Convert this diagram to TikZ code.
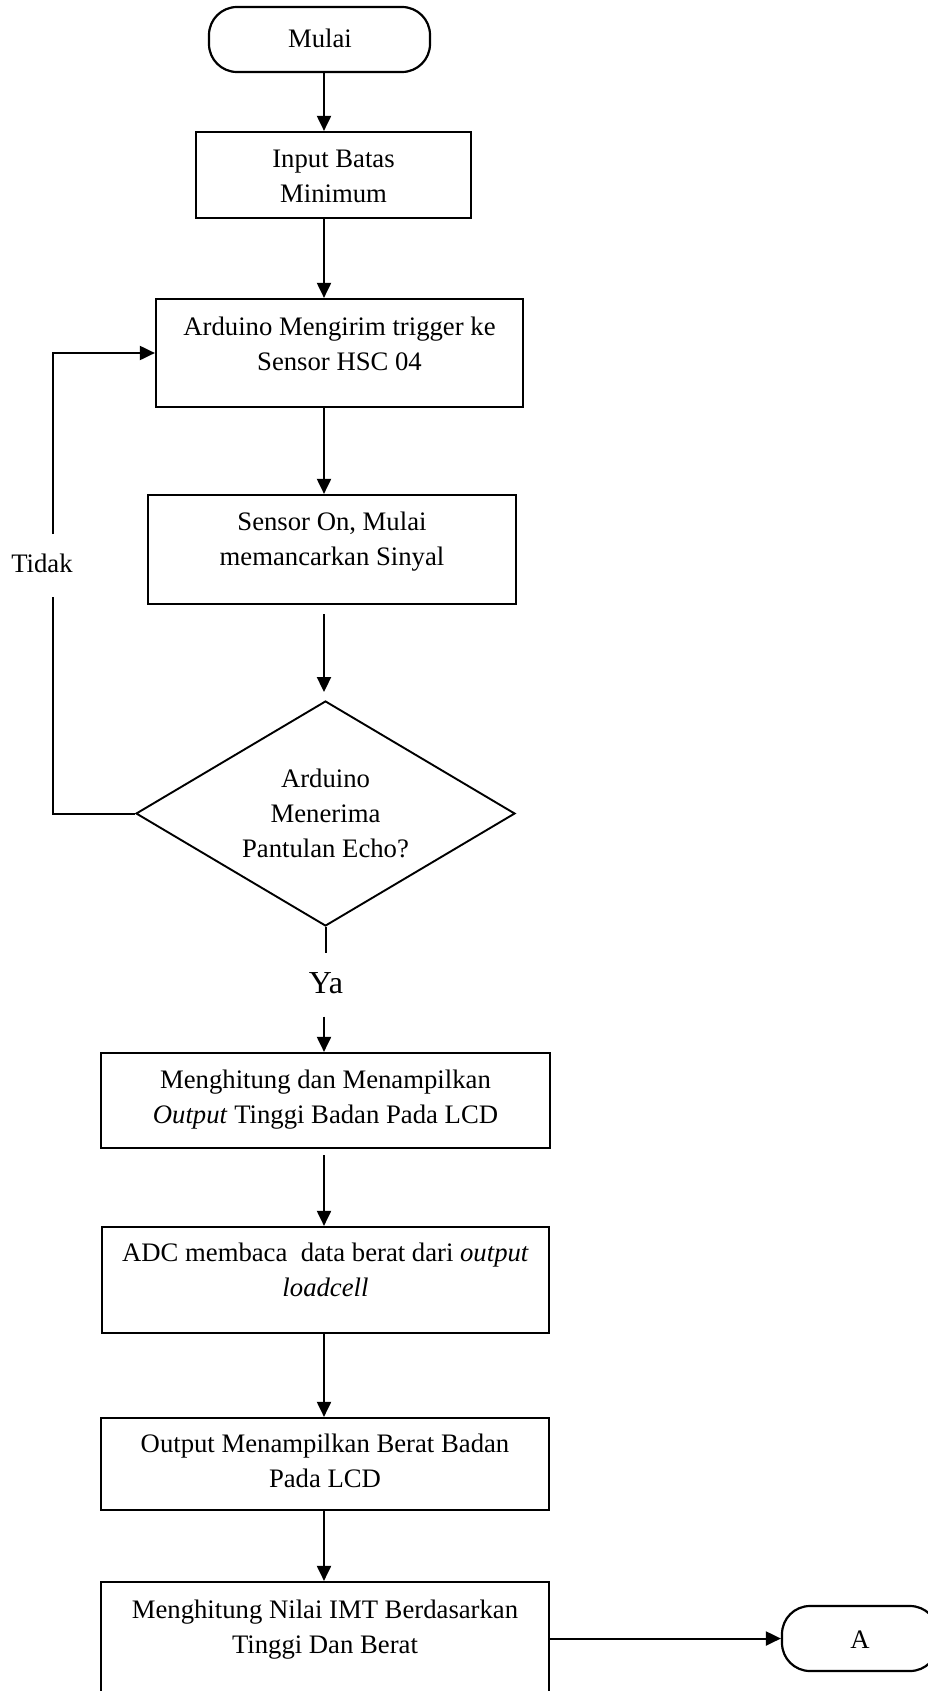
\documentclass[tikz,border=0pt]{standalone}
\usepackage{fontspec}
\setmainfont{Liberation Serif}
\usetikzlibrary{arrows.meta,shapes.geometric}

\begin{document}
\begin{tikzpicture}[x=1pt,y=-1pt,
  box/.style={draw, line width=2.2pt, rectangle, inner sep=0pt},
  term/.style={draw, line width=2.2pt, rectangle, rounded corners=28pt, inner sep=0pt},
  decision/.style={draw, line width=1.9pt, diamond, inner sep=0pt},
  txt/.style={anchor=base, align=center, inner sep=0pt, font=\fontsize{26.7}{35}\selectfont},
  flow/.style={line width=2pt, -{Triangle[length=15pt,width=14pt]}},
  plain/.style={line width=2pt},
]
\useasboundingbox (0,0) rectangle (928,1691);
\clip (0,0) rectangle (928,1691);

% main column for the vertical connectors
\coordinate (spine) at (324,0);

% shapes
\node[term, minimum width=221pt, minimum height=65pt] (start) at (319.5,39.5) {};
\node[box, minimum width=275pt, minimum height=86pt] (inp) at (333.5,175) {};
\node[box, minimum width=367pt, minimum height=108pt] (ard) at (339.5,353) {};
\node[box, minimum width=368pt, minimum height=109pt] (sen) at (332,549.5) {};
\node[decision, minimum width=379pt, minimum height=225pt] (dia) at (325.5,813.5) {};
\node[box, minimum width=449pt, minimum height=95pt] (hit) at (325.5,1100.5) {};
\node[box, minimum width=447pt, minimum height=106pt] (adc) at (325.5,1280) {};
\node[box, minimum width=448pt, minimum height=92pt] (out) at (325,1464) {};
\node[box, minimum width=448pt, minimum height=138pt] (imt) at (325,1651) {};
\node[term, minimum width=156pt, minimum height=65pt] (aend) at (860,1638.5) {};

% texts (anchored at the baseline of their last line)
\node[txt] (tstart) at (320,48) {Mulai};
\node[txt] (tinp) at (333.5,202) {Input Batas\\Minimum};
\node[txt] (tard) at (339.5,370) {Arduino Mengirim trigger ke\\Sensor HSC 04};
\node[txt] (tsen) at (332,565) {Sensor On, Mulai\\memancarkan Sinyal};
\node[txt] (tdia) at (325.5,857) {Arduino\\Menerima\\Pantulan Echo?};
\node[txt, font=\fontsize{32}{38}\selectfont] (ya) at (326,993) {Ya};
\node[txt] (thit) at (325.5,1123) {Menghitung dan Menampilkan\\\textit{Output} Tinggi Badan Pada LCD};
\node[txt] (tadc) at (325.5,1296) {ADC membaca\ \ data berat dari \textit{output}\\\textit{loadcell}};
\node[txt] (tout) at (325,1487) {Output Menampilkan Berat Badan\\Pada LCD};
\node[txt] (timt) at (325,1653) {Menghitung Nilai IMT Berdasarkan\\Tinggi Dan Berat};
\node[txt] (ta) at (860,1648) {A};
\node[txt] (tidak) at (42,572) {Tidak};

% vertical flow
\draw[flow] (start.south -| spine) -- (inp.north -| spine);
\draw[flow] (inp.south -| spine) -- (ard.north -| spine);
\draw[flow] (ard.south -| spine) -- (sen.north -| spine);
\draw[flow] ([yshift=-9pt]sen.south -| spine) -- ([yshift=8pt]dia.north -| spine);
\draw[plain] (dia.south) -- ([yshift=-26pt]dia.south);
\draw[flow] ([yshift=-23pt]ya.south -| spine) -- (hit.north -| spine);
\draw[flow] ([yshift=-6pt]hit.south -| spine) -- (adc.north -| spine);
\draw[flow] (adc.south -| spine) -- (out.north -| spine);
\draw[flow] (out.south -| spine) -- (imt.north -| spine);
\draw[flow] (aend.west -| imt.east) -- (aend.west);

% loop back when no echo is received
\coordinate (gapb) at (53,597);
\coordinate (gapt) at (53,534);
\draw[plain] (dia.west) -- (dia.west -| gapb) -- (gapb);
\draw[flow] (gapt) -- (gapt |- ard.west) -- (ard.west);
\end{tikzpicture}
\end{document}
